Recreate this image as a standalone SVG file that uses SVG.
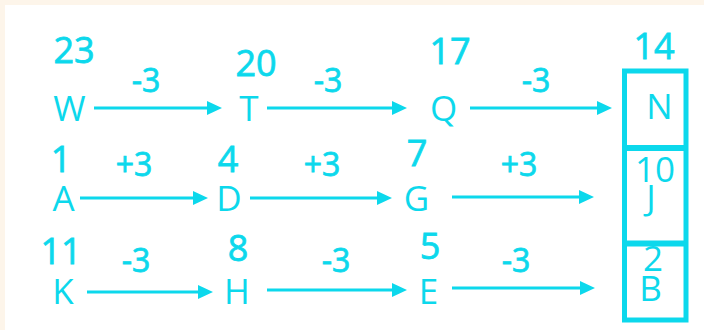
<svg xmlns="http://www.w3.org/2000/svg" width="704" height="330" viewBox="0 0 704 330">
  <style>
    .bg { fill: #fdf5ea; }
    .panel { fill: #ffffff; }
    text { font-family: "Open Sans", "DejaVu Sans", sans-serif; fill: #0cd8ec; text-anchor: middle; font-weight: 400; }
    .letter { font-size: 35px; }
    .num { font-size: 36px; stroke: #0cd8ec; stroke-width: 0.8px; }
    .bnum { font-size: 35px; }
    .op { font-size: 32px; stroke: #0cd8ec; stroke-width: 0.8px; }
    .conn { stroke: #0cd8ec; stroke-width: 3; fill: none; }
    .box { stroke: #0cd8ec; stroke-width: 5; fill: none; }
    .div { stroke: #0cd8ec; stroke-width: 6; }
  </style>
  <defs>
    <marker id="arrow" viewBox="0 0 15 14" refX="3" refY="7" markerWidth="15" markerHeight="14" markerUnits="userSpaceOnUse" orient="auto">
      <path d="M0,0 L15,7 L0,14 z" fill="#0cd8ec"/>
    </marker>
  </defs>
  <rect class="bg" x="0" y="0" width="704" height="330"/>
  <rect class="panel" x="5" y="5" width="699" height="325"/>

  <g id="connectors">
    <line class="conn" x1="94" y1="108" x2="210" y2="108" marker-end="url(#arrow)"/>
    <line class="conn" x1="267" y1="108" x2="395" y2="108" marker-end="url(#arrow)"/>
    <line class="conn" x1="470" y1="108" x2="600" y2="108" marker-end="url(#arrow)"/>
    <line class="conn" x1="80" y1="198" x2="196" y2="198" marker-end="url(#arrow)"/>
    <line class="conn" x1="250" y1="198" x2="380" y2="198" marker-end="url(#arrow)"/>
    <line class="conn" x1="452" y1="197" x2="582" y2="197" marker-end="url(#arrow)"/>
    <line class="conn" x1="87" y1="292" x2="201" y2="292" marker-end="url(#arrow)"/>
    <line class="conn" x1="267" y1="290" x2="395" y2="290" marker-end="url(#arrow)"/>
    <line class="conn" x1="452" y1="288" x2="583" y2="288" marker-end="url(#arrow)"/>
    <text class="op" x="146" y="92">-3</text>
    <text class="op" x="328" y="92">-3</text>
    <text class="op" x="536" y="92">-3</text>
    <text class="op" x="134" y="176">+3</text>
    <text class="op" x="322" y="176">+3</text>
    <text class="op" x="519" y="176">+3</text>
    <text class="op" x="136" y="272">-3</text>
    <text class="op" x="336" y="272">-3</text>
    <text class="op" x="516" y="272">-3</text>
  </g>

  <g id="node-W"><text class="num" x="74" y="63">23</text><text class="letter" x="69.5" y="121">W</text></g>
  <g id="node-T"><text class="num" x="256" y="76">20</text><text class="letter" x="249" y="121">T</text></g>
  <g id="node-Q"><text class="num" x="450" y="64">17</text><text class="letter" x="443.5" y="121">Q</text></g>

  <g id="node-A"><text class="num" x="61" y="172">1</text><text class="letter" x="63.5" y="211">A</text></g>
  <g id="node-D"><text class="num" x="228" y="172">4</text><text class="letter" x="229" y="211">D</text></g>
  <g id="node-G"><text class="num" x="417" y="166">7</text><text class="letter" x="416.5" y="211">G</text></g>

  <g id="node-K"><text class="num" x="61" y="264">11</text><text class="letter" x="63" y="304">K</text></g>
  <g id="node-H"><text class="num" x="238" y="261">8</text><text class="letter" x="237" y="304">H</text></g>
  <g id="node-E"><text class="num" x="430" y="259">5</text><text class="letter" x="428.5" y="304">E</text></g>

  <g id="node-box">
    <rect class="box" x="624.5" y="71" width="61.5" height="249"/>
    <line class="div" x1="624.5" y1="148" x2="686" y2="148"/>
    <line class="div" x1="624.5" y1="243.5" x2="686" y2="243.5"/>
    <text class="num" x="654" y="59">14</text>
    <text class="letter" x="659.5" y="119">N</text>
    <text class="bnum" x="655" y="182">10</text>
    <text class="letter" x="651" y="210">J</text>
    <text class="bnum" x="653" y="271">2</text>
    <text class="letter" x="650.5" y="301">B</text>
  </g>
</svg>
